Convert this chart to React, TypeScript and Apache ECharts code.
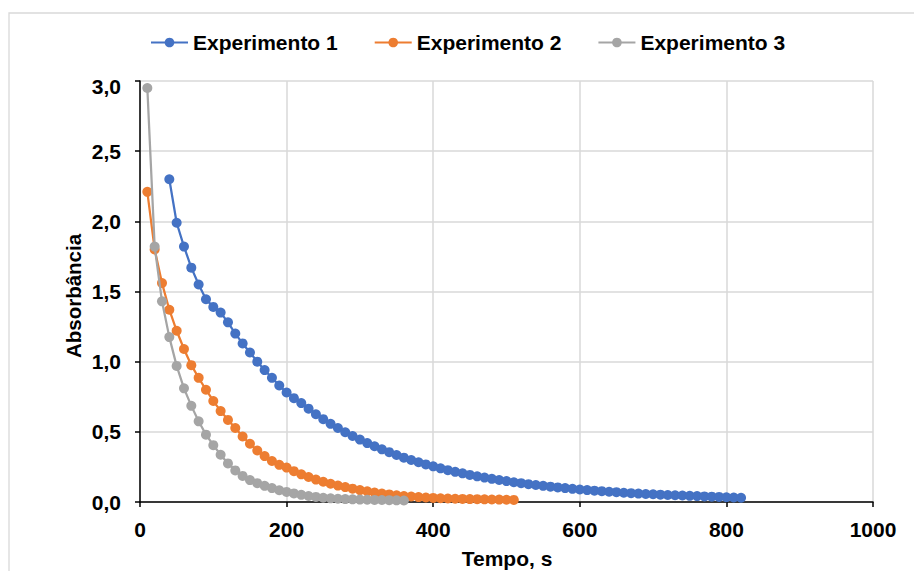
import React, { useEffect, useRef } from "react";
import * as echarts from "echarts";

// Sampling interval (s) shared by all three runs
const STEP = 10;

const exp1Start = 40;
const exp1Values = [
  2.30, 1.99, 1.82, 1.67, 1.55, 1.445, 1.39, 1.35, 1.28, 1.20,
  1.13, 1.065, 1.00, 0.94, 0.885, 0.83, 0.78, 0.74, 0.705, 0.665,
  0.625, 0.59, 0.557, 0.527, 0.497, 0.47, 0.445, 0.42, 0.397, 0.375,
  0.355, 0.335, 0.316, 0.299, 0.283, 0.268, 0.254, 0.24, 0.227, 0.215,
  0.204, 0.193, 0.183, 0.174, 0.165, 0.157, 0.149, 0.141, 0.134, 0.127,
  0.121, 0.115, 0.109, 0.104, 0.099, 0.094, 0.089, 0.085, 0.081, 0.077,
  0.073, 0.070, 0.066, 0.063, 0.060, 0.057, 0.055, 0.052, 0.050, 0.048,
  0.046, 0.044, 0.042, 0.040, 0.038, 0.036, 0.034, 0.032, 0.030,
];

const exp2Start = 10;
const exp2Values = [
  2.21, 1.80, 1.56, 1.37, 1.22, 1.09, 0.975, 0.885, 0.80, 0.72,
  0.648, 0.585, 0.527, 0.467, 0.415, 0.367, 0.327, 0.292, 0.265, 0.245,
  0.22, 0.197, 0.178, 0.16, 0.144, 0.13, 0.117, 0.106, 0.095, 0.085,
  0.076, 0.068, 0.06, 0.054, 0.048, 0.043, 0.039, 0.035, 0.032, 0.029,
  0.027, 0.025, 0.023, 0.022, 0.021, 0.02, 0.019, 0.018, 0.017, 0.016,
  0.015,
];

const exp3Start = 10;
const exp3Values = [
  2.95, 1.82, 1.43, 1.175, 0.97, 0.81, 0.685, 0.575, 0.48, 0.405,
  0.337, 0.275, 0.225, 0.186, 0.156, 0.134, 0.115, 0.099, 0.084, 0.072,
  0.061, 0.051, 0.043, 0.036, 0.03, 0.026, 0.023, 0.021, 0.019, 0.017,
  0.016, 0.015, 0.014, 0.013, 0.012, 0.011,
];

const seriesNames = ["Experimento 1", "Experimento 2", "Experimento 3"];
const seriesColors = ["#4472C4", "#ED7D31", "#A5A5A5"];

const xTitle = "Tempo, s";
const yTitle = "Absorbância";

const FONT = "'Liberation Sans', Arial, sans-serif";

const toPairs = (start: number, values: number[]) =>
  values.map((v, i) => [start + i * STEP, v]);

const decimalComma = (v: number) => {
  const s = v.toFixed(1).replace(".", ",");
  // the top label sits a little lower, clear of the chart's upper edge
  return v >= 3 ? `{top|${s}}` : s;
};

export default function App() {
  const ref = useRef<HTMLDivElement>(null);

  useEffect(() => {
    if (!ref.current) return;
    const chart = echarts.init(ref.current, undefined, { renderer: "svg" });

    const runs = [
      toPairs(exp1Start, exp1Values),
      toPairs(exp2Start, exp2Values),
      toPairs(exp3Start, exp3Values),
    ];

    const labelStyle = {
      fontFamily: FONT,
      fontWeight: "bold" as const,
      fontSize: 21,
      color: "#000",
    };

    chart.setOption({
      animation: false,
      backgroundColor: "#fff",
      grid: { left: 140, right: 41, top: 81, bottom: 69 },
      legend: {
        data: seriesNames,
        left: 145,
        top: 27,
        itemWidth: 37,
        itemHeight: 12,
        itemGap: 36,
        textStyle: { ...labelStyle },
      },
      xAxis: {
        type: "value",
        min: 0,
        max: 1000,
        interval: 200,
        axisLine: { lineStyle: { color: "#000", width: 1.5 } },
        axisTick: { show: true, length: 5, lineStyle: { color: "#000", width: 1.5 } },
        splitLine: { show: true, lineStyle: { color: "#d9d9d9", width: 1.5 } },
        axisLabel: { ...labelStyle, margin: 17, formatter: (v: number) => String(v) },
      },
      yAxis: {
        type: "value",
        min: 0,
        max: 3,
        interval: 0.5,
        axisLine: { show: true, lineStyle: { color: "#000", width: 1.5 } },
        axisTick: { show: true, length: 5, lineStyle: { color: "#000", width: 1.5 } },
        splitLine: { show: true, lineStyle: { color: "#d9d9d9", width: 1.5 } },
        axisLabel: {
          ...labelStyle,
          margin: 19,
          formatter: decimalComma,
          rich: { top: { ...labelStyle, padding: [10, 0, 0, 0] } },
        },
      },
      series: runs.map((data, i) => ({
        name: seriesNames[i],
        type: "line",
        data,
        color: seriesColors[i],
        symbol: "circle",
        symbolSize: 10,
        showSymbol: true,
        lineStyle: { width: 2.25, color: seriesColors[i] },
        itemStyle: { color: seriesColors[i] },
        z: 2 + i,
      })),
      graphic: [
        {
          type: "rect",
          shape: { x: 9, y: 13, width: 1200, height: 1200 },
          style: { fill: "none", stroke: "#d9d9d9", lineWidth: 1.3 },
          silent: true,
        },
        {
          type: "text",
          x: 507,
          y: 558,
          style: {
            text: xTitle,
            font: `bold 21px ${FONT}`,
            fill: "#000",
            align: "center",
            verticalAlign: "middle",
          },
        },
        {
          type: "text",
          x: 73,
          y: 296,
          rotation: Math.PI / 2,
          style: {
            text: yTitle,
            font: `bold 20.5px ${FONT}`,
            fill: "#000",
            align: "center",
            verticalAlign: "middle",
          },
        },
      ],
    });

    return () => chart.dispose();
  }, []);

  return (
    <div
      ref={ref}
      style={{ position: "fixed", left: 0, top: 0, width: 914, height: 571 }}
    />
  );
}
